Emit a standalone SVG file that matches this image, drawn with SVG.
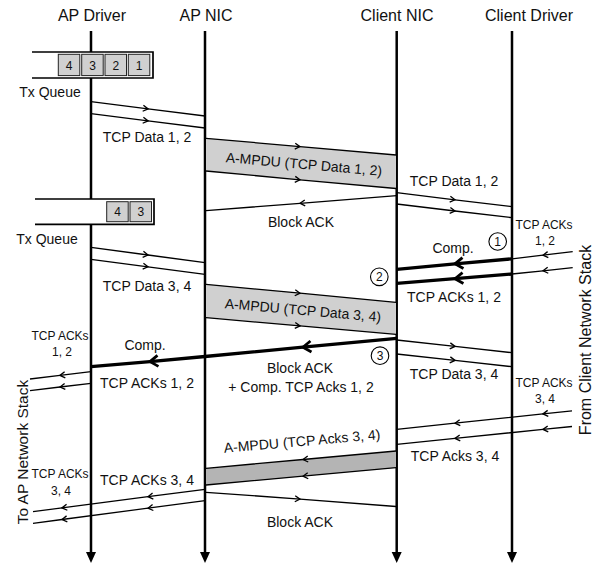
<svg xmlns="http://www.w3.org/2000/svg" width="593" height="567" viewBox="0 0 593 567">
<style>
text{font-family:"Liberation Sans",Arial,sans-serif;fill:#111;text-anchor:middle}
.t{font-size:16px}
.l{font-size:14px}
.s{font-size:12px}
.life{stroke:#000;stroke-width:2.5;fill:none;marker-end:url(#E)}
.m{stroke:#000;stroke-width:1.3;fill:none;marker-mid:url(#a)}
.k{stroke:#000;stroke-width:3.3;fill:none;marker-mid:url(#A)}
.box{fill:#d0d0d0;stroke:#222;stroke-width:1}
.fr{fill:none;stroke:#000;stroke-width:1.7}
.c{fill:#fff;stroke:#000;stroke-width:1.1}
</style>
<defs>
<marker id="a" viewBox="-7 -4 8 8" markerWidth="8" markerHeight="8" refX="0" refY="0" orient="auto" markerUnits="userSpaceOnUse"><path d="M-5,-3 L0,0 L-5,3" fill="none" stroke="#000" stroke-width="1.3"/></marker>
<marker id="A" viewBox="-12 -8 14 16" markerWidth="14" markerHeight="16" refX="0" refY="0" orient="auto" markerUnits="userSpaceOnUse"><path d="M-8,-5.5 L0,0 L-8,5.5" fill="none" stroke="#000" stroke-width="2.8"/></marker>
<marker id="E" viewBox="0 -6 12 12" markerWidth="12" markerHeight="12" refX="3" refY="0" orient="auto" markerUnits="userSpaceOnUse"><path d="M0,-5 L11,0 L0,5 Z" fill="#000"/></marker>
</defs>

<g id="ap-driver"><text class="t" x="92" y="21">AP Driver</text><line class="life" x1="91" y1="31" x2="91" y2="555"/></g>
<g id="ap-nic"><text class="t" x="206" y="21">AP NIC</text><line class="life" x1="205" y1="31" x2="205" y2="555"/></g>
<g id="client-nic"><text class="t" x="397" y="21">Client NIC</text><line class="life" x1="396.7" y1="31" x2="396.7" y2="555"/></g>
<g id="client-driver"><text class="t" x="529" y="21">Client Driver</text><line class="life" x1="512" y1="31" x2="512" y2="555"/></g>

<g id="tx-queue-1">
<rect x="32" y="52" width="121" height="26" fill="#fff"/>
<path class="fr" d="M32,52 H153 V78 H32"/>
<rect class="box" x="58.3" y="54.3" width="21.5" height="21.3"/>
<rect class="box" x="81.7" y="54.3" width="21.5" height="21.3"/>
<rect class="box" x="105" y="54.3" width="21.5" height="21.3"/>
<rect class="box" x="128.3" y="54.3" width="21.5" height="21.3"/>
<text class="s" x="69" y="69.5">4</text><text class="s" x="92.5" y="69.5">3</text><text class="s" x="115.8" y="69.5">2</text><text class="s" x="139" y="69.5">1</text>
<text class="l" x="50" y="97">Tx Queue</text>
</g>
<g id="tx-queue-2">
<rect x="35" y="199" width="119" height="25.3" fill="#fff"/>
<path class="fr" d="M35,199 H154 V224.3 H35"/>
<rect class="box" x="106.7" y="201.7" width="21.5" height="20"/>
<rect class="box" x="130" y="201.7" width="21.5" height="20"/>
<text class="s" x="117.5" y="216">4</text><text class="s" x="140.8" y="216">3</text>
<text class="l" x="47" y="244">Tx Queue</text>
</g>

<g id="ampdu-1">
<polygon points="206,138.3 396,155 396,188.5 206,171" fill="#d0d0d0"/>
<text class="l" transform="translate(304,164) rotate(5)" y="5">A-MPDU (TCP Data 1, 2)</text>
</g>
<g id="ampdu-2">
<polygon points="206,284.3 396,302.3 396,334.3 206,317.7" fill="#d0d0d0"/>
<text class="l" transform="translate(303,310) rotate(5)" y="5">A-MPDU (TCP Data 3, 4)</text>
</g>
<g id="ampdu-3">
<polygon points="396,451 206,468.3 206,485 396,467.7" fill="#b4b4b4"/>
<text class="l" transform="translate(302,441) rotate(-5)" y="5">A-MPDU (TCP Acks 3, 4)</text>
</g>

<g id="connectors">
<polyline class="m" points="91,101.7 148,108.9 205,116"/>
<polyline class="m" points="91,113.7 148,120.9 205,128"/>
<polyline class="m" points="206,138.3 300,146.6 396,155"/>
<polyline class="m" points="206,171 300,179.8 396,188.5"/>
<polyline class="m" points="396.7,195.7 300,203.3 206,210.7"/>
<polyline class="m" points="396.7,192.7 455,199.8 512,206.7"/>
<polyline class="m" points="396.7,204 455,211 512,217.7"/>
<polyline class="m" points="572.7,251.7 543,255.2 512,258.8"/>
<polyline class="m" points="572.7,267.7 543,270.8 512,274"/>
<polyline class="k" points="512,258.8 455,263.8 396.7,269.3"/>
<polyline class="k" points="512,274 455,278.7 396.7,283.3"/>
<polyline class="m" points="91,247.3 148,255 205,262.7"/>
<polyline class="m" points="91,259.3 148,266.8 205,274.3"/>
<polyline class="m" points="206,284.3 300,293.2 396,302.3"/>
<polyline class="m" points="206,317.7 300,325.9 396,334.3"/>
<polyline class="k" points="396.7,338.3 303,347.2 205,356.5"/>
<polyline class="k" points="205,356.5 150,361.6 91,366.7"/>
<polyline class="m" points="91,371.7 60,375.4 30,379"/>
<polyline class="m" points="91,383.3 60,387 30,390.7"/>
<polyline class="m" points="396.7,340 455,346.4 512,352.7"/>
<polyline class="m" points="396.7,354 455,360.4 512,366.7"/>
<polyline class="m" points="572,410.8 543,413.9 455,423.2 396.7,429.4"/>
<polyline class="m" points="572,426.5 543,429.4 455,438.4 396.7,444.3"/>
<polyline class="m" points="396,451 303,459.5 206,468.3"/>
<polyline class="m" points="396,467.7 303,476.2 206,485"/>
<polyline class="m" points="205,489.3 148,496.7 62,507.9 33,511.7"/>
<polyline class="m" points="205,500.7 148,508.2 62,519.5 33,523.3"/>
<polyline class="m" points="206,492.3 300,499.1 396,506.5"/>
</g>

<g id="markers">
<circle class="c" cx="497.7" cy="241.5" r="8.8"/><text class="s" x="497.7" y="246">1</text>
<circle class="c" cx="379.3" cy="276.8" r="8.8"/><text class="s" x="379.3" y="281.3">2</text>
<circle class="c" cx="380" cy="355.7" r="8.8"/><text class="s" x="380" y="360.2">3</text>
</g>

<g id="labels">
<text class="l" x="147" y="142">TCP Data 1, 2</text>
<text class="l" x="301" y="227">Block ACK</text>
<text class="l" x="454" y="186">TCP Data 1, 2</text>
<text class="s" x="544" y="229">TCP ACKs</text><text class="s" x="545" y="245">1, 2</text>
<text class="l" x="453" y="253">Comp.</text>
<text class="l" x="147" y="290.5">TCP Data 3, 4</text>
<text class="l" x="454" y="302">TCP ACKs 1, 2</text>
<text class="s" x="60" y="340">TCP ACKs</text><text class="s" x="62" y="356">1, 2</text>
<text class="l" x="145" y="350">Comp.</text>
<text class="l" x="147" y="388">TCP ACKs 1, 2</text>
<text class="l" x="300" y="372.5">Block ACK</text>
<text class="l" x="301" y="391.5">+ Comp. TCP Acks 1, 2</text>
<text class="l" x="454" y="379">TCP Data 3, 4</text>
<text class="s" x="544" y="387">TCP ACKs</text><text class="s" x="545" y="403">3, 4</text>
<text class="l" x="455" y="460.5">TCP Acks 3, 4</text>
<text class="l" x="147" y="485">TCP ACKs 3, 4</text>
<text class="s" x="60" y="478">TCP ACKs</text><text class="s" x="61" y="495">3, 4</text>
<text class="l" x="300" y="527">Block ACK</text>
<text style="font-size:15.5px" transform="translate(28,452) rotate(-90)">To AP Network Stack</text>
<text class="t" transform="translate(591,340) rotate(-90)">From Client Network Stack</text>
</g>
</svg>
